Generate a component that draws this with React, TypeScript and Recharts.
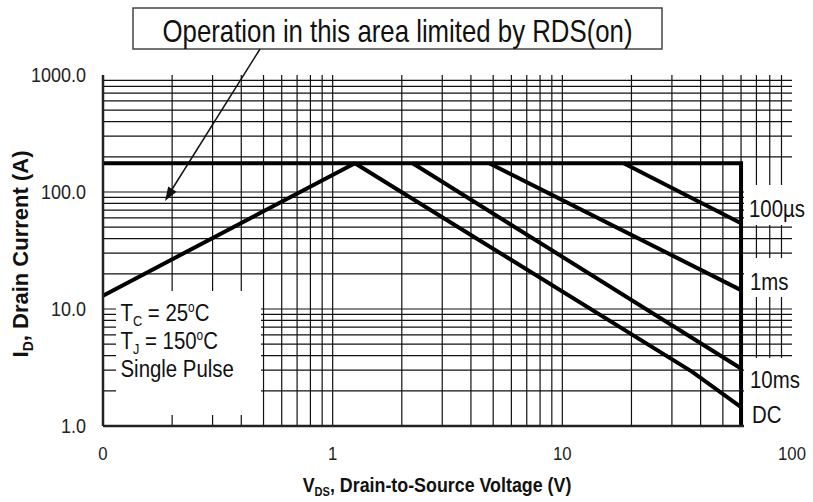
import { LineChart, Line, XAxis, YAxis, ReferenceLine } from 'recharts';

const FONT = "'Liberation Sans', Arial, sans-serif";

// axis ticks
const X_TICKS = [0.1, 1, 10, 100];
const X_TICK_LABELS = ['0', '1', '10', '100'];
const Y_TICKS = [1, 10, 100, 1000];
const Y_TICK_LABELS = ['1.0', '10.0', '100.0', '1000.0'];

// log grid: 1..9 in every decade
const GRID_MULTS = [1, 2, 3, 4, 5, 6, 7, 8, 9];
const X_DECADES = [0.1, 1, 10];
const Y_DECADES = [1, 10, 100];
const X_GRID = X_DECADES.flatMap(d => GRID_MULTS.map(m => +(d * m).toPrecision(3))).filter(v => v > 0.1);
const Y_GRID = Y_DECADES.flatMap(d => GRID_MULTS.map(m => +(d * m).toPrecision(3))).filter(v => v > 1);

// SOA boundaries (V, A)
const rdsLimit = [{ v: 0.1, i: 13 }, { v: 1.25, i: 176 }];
const currentLimit = [{ v: 0.1, i: 176 }, { v: 60, i: 176 }, { v: 60, i: 1 }];
const dcLine = [{ v: 1.25, i: 176 }, { v: 36.8, i: 2.9 }, { v: 60, i: 1.45 }];
const ms10Line = [{ v: 2.23, i: 176 }, { v: 60, i: 3.1 }];
const ms1Line = [{ v: 4.8, i: 176 }, { v: 60, i: 14.5 }];
const us100Line = [{ v: 18.5, i: 176 }, { v: 60, i: 54 }];

const SERIES = [rdsLimit, currentLimit, dcLine, ms10Line, ms1Line, us100Line];

function XTick(props: any) {
    const idx = X_TICKS.indexOf(props.payload.value);
    return (
        <text transform={`translate(${props.x},460) scale(0.88,1)`} textAnchor="middle"
            fontSize={19} fontFamily={FONT} fill="#222">
            {X_TICK_LABELS[idx]}
        </text>
    );
}

function YTick(props: any) {
    const idx = Y_TICKS.indexOf(props.payload.value);
    return (
        <text transform={`translate(86,${props.y + 7}) scale(0.9,1)`} textAnchor="end"
            fontSize={20} fontFamily={FONT} fill="#222">
            {Y_TICK_LABELS[idx]}
        </text>
    );
}

function Overlay() {
    const sq = (x: number, y: number) => `translate(${x},${y}) scale(0.85,1)`;
    return (
        <svg width={813} height={502} style={{ position: 'absolute', left: 0, top: 0, pointerEvents: 'none' }}
            fontFamily={FONT}>
            {/* RDS(on) note */}
            <rect x={133} y={8} width={529} height={41} fill="#fff" stroke="#444" strokeWidth={1.5} />
            <text x={397.5} y={42} textAnchor="middle" fontSize={32} textLength={470}
                lengthAdjust="spacingAndGlyphs" fill="#111">
                Operation in this area limited by RDS(on)
            </text>
            <line x1={260} y1={49} x2={171} y2={191} stroke="#111" strokeWidth={1.5} />
            <polygon points="165,201 176.6,191.8 168.2,186.5" fill="#111" />

            {/* conditions */}
            <rect x={116} y={291} width={145} height={124} fill="#fff" />
            <text transform={sq(120.5, 320.5)} fontSize={24} fill="#111">
                T<tspan fontSize={15} dy={5}>C</tspan><tspan dy={-5}> = 25</tspan>
                <tspan fontSize={14} dy={-9}>o</tspan><tspan dy={9}>C</tspan>
            </text>
            <text transform={sq(120.5, 348.5)} fontSize={24} fill="#111">
                T<tspan fontSize={15} dy={5}>J</tspan><tspan dy={-5}> = 150</tspan>
                <tspan fontSize={14} dy={-9}>o</tspan><tspan dy={9}>C</tspan>
            </text>
            <text transform={sq(120.5, 377)} fontSize={24} fill="#111">Single Pulse</text>

            {/* curve labels */}
            <rect x={744} y={185} width={69} height={40} fill="#fff" />
            <text transform={sq(749, 217)} fontSize={24} fill="#111">100µs</text>
            <rect x={744} y={258} width={69} height={39} fill="#fff" />
            <text transform={sq(750, 290)} fontSize={24} fill="#111">1ms</text>
            <rect x={744} y={358} width={69} height={82} fill="#fff" />
            <text transform={sq(750, 388)} fontSize={24} fill="#111">10ms</text>
            <text transform={sq(752, 423)} fontSize={24} fill="#111">DC</text>

            {/* axis titles */}
            <text transform="translate(28,254) rotate(-90)" textAnchor="middle" fontSize={22}
                fontWeight="bold" fill="#111">
                I<tspan fontSize={14} dy={5}>D</tspan><tspan dy={-5}>, Drain Current (A)</tspan>
            </text>
            <text transform={sq(437, 492)} textAnchor="middle" fontSize={21} fontWeight="bold" fill="#111">
                V<tspan fontSize={13} dy={4}>DS</tspan><tspan dy={-4}>, Drain-to-Source Voltage (V)</tspan>
            </text>
        </svg>
    );
}

export default function App() {
    return (
        <div style={{ position: 'absolute', left: 0, top: 0, width: 813, height: 502, background: '#fff' }}>
            <LineChart width={813} height={502} margin={{ top: 75, right: 21, bottom: 0, left: 0 }}>
                <XAxis dataKey="v" type="number" scale="log" domain={[0.1, 100]} ticks={X_TICKS}
                    allowDataOverflow height={76} tickLine={false} tick={<XTick />}
                    axisLine={{ stroke: '#222', strokeWidth: 2.5 }} />
                <YAxis dataKey="i" type="number" scale="log" domain={[1, 1000]} ticks={Y_TICKS}
                    allowDataOverflow width={103} tickLine={false} tick={<YTick />}
                    axisLine={{ stroke: '#222', strokeWidth: 2.5 }} />
                {Y_GRID.map(y => (
                    <ReferenceLine key={`y${y}`} y={y} stroke={y === 1000 ? '#777' : '#111'}
                        strokeWidth={y === 1000 ? 2 : 1.2} />
                ))}
                {X_GRID.map(x => (
                    <ReferenceLine key={`x${x}`} x={x} stroke={x === 100 ? '#666' : '#111'}
                        strokeWidth={1.2} />
                ))}
                {SERIES.map((s, k) => (
                    <Line key={k} data={s} dataKey="i" type="linear" stroke="#000" strokeWidth={4}
                        dot={false} isAnimationActive={false} />
                ))}
            </LineChart>
            <Overlay />
        </div>
    );
}
